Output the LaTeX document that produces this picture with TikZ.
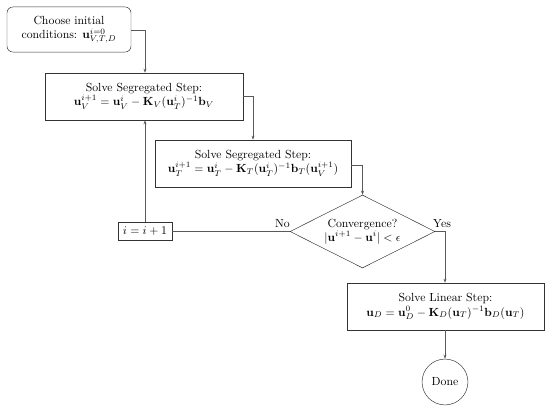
\documentclass[tikz,border=0pt]{standalone}
\usepackage{amsmath}
\usetikzlibrary{shapes.geometric,arrows.meta}
\begin{document}
\begin{tikzpicture}[x=0.85pt,y=-0.85pt,
  box/.style={draw=black!80,fill=white,align=center,inner sep=0pt,font=\normalsize},
  conn/.style={draw=black!65,line width=0.5pt},
  arr/.style={conn,-{Stealth[length=3.5pt,width=2.6pt]}},
  lbl/.style={inner sep=0pt,font=\normalsize}]
\useasboundingbox (0,0) rectangle (550,414);
\node[box,rounded corners=5pt,minimum width=105.4pt,minimum height=38.3pt] (start) at (69,29.5)
  {Choose initial\\conditions: $\mathbf{u}^{i=0}_{V,T,D}$};
\node[box,minimum width=168.3pt,minimum height=40pt] (seg1) at (144,96.5)
  {Solve Segregated Step:\\$\mathbf{u}_V^{i+1} = \mathbf{u}_V^{i} - \mathbf{K}_V(\mathbf{u}_T^{i})^{-1}\mathbf{b}_V$};
\node[box,minimum width=166.6pt,minimum height=40pt] (seg2) at (253,163.5)
  {Solve Segregated Step:\\$\mathbf{u}_T^{i+1} = \mathbf{u}_T^{i} - \mathbf{K}_T(\mathbf{u}_T^{i})^{-1}\mathbf{b}_T(\mathbf{u}_V^{i+1})$};
\node[box,diamond,aspect=2,minimum width=123.3pt,minimum height=62pt] (conv) at (362.5,231.5)
  {Convergence?\\$|\mathbf{u}^{i+1} - \mathbf{u}^{i}| < \epsilon$};
\node[box,minimum width=46pt,minimum height=15.3pt] (inc) at (145,231.5) {$i = i + 1$};
\node[box,minimum width=167.5pt,minimum height=40pt] (lin) at (445.5,306.5)
  {Solve Linear Step:\\$\mathbf{u}_D = \mathbf{u}_D^{0} - \mathbf{K}_D(\mathbf{u}_T)^{-1}\mathbf{b}_D(\mathbf{u}_T)$};
\node[box,circle,minimum size=39pt] (done) at (445,382) {Done};
\node[lbl,anchor=south east] (no) at (290,228) {No};
\node[lbl,anchor=south west] (yes) at (433,228) {Yes};
\draw[arr] (start.east |- 0,30) -| (seg1.north -| 145,0);
\draw[arr] (seg1.east |- 0,96) -| (seg2.north -| 253,0);
\draw[arr] (seg2.east |- 0,165) -| (conv.north);
\draw[arr] (conv.east) -| (lin.north -| 445,0);
\draw[arr] (lin.south -| 445,0) -- (done.north);
\draw[conn] (conv.west) -- (inc.east);
\draw[arr] (inc.north) -- (seg1.south -| inc.north);
\end{tikzpicture}
\end{document}
